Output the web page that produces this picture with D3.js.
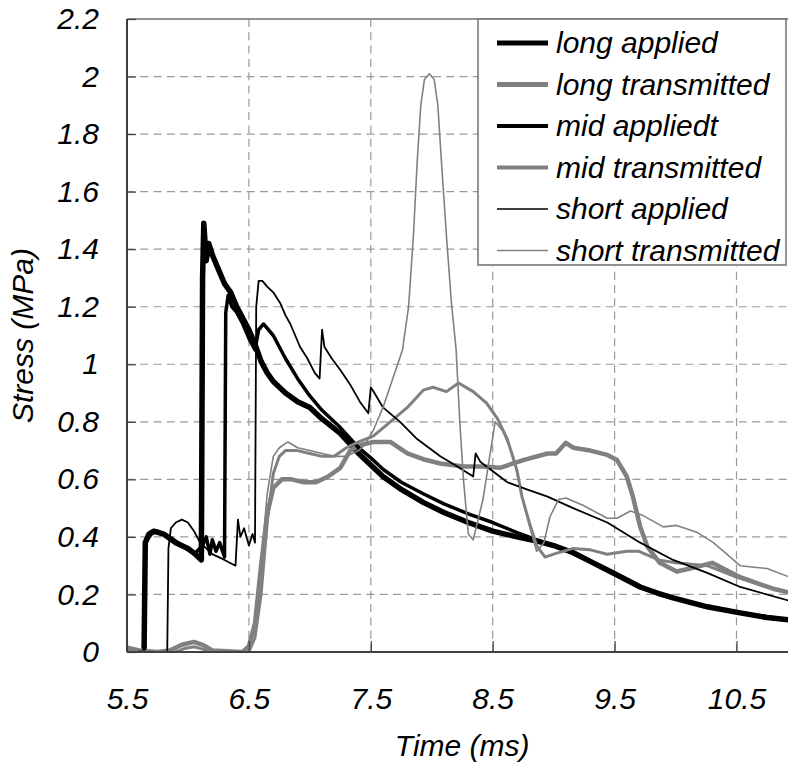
<!DOCTYPE html>
<html>
<head>
<meta charset="utf-8">
<script src="https://cdn.jsdelivr.net/npm/d3@7"></script>
<style>
  body { margin: 0; background: #fff; }
  text { font-family: "Liberation Sans", Arial, sans-serif; font-style: italic; }
</style>
</head>
<body>
<script>
// --- data (time in ms, stress in MPa) ---
const xTicks = [5.5, 6.5, 7.5, 8.5, 9.5, 10.5];
const yTicks = [0, 0.2, 0.4, 0.6, 0.8, 1, 1.2, 1.4, 1.6, 1.8, 2, 2.2];

const longApplied = [
  [5.5, 0], [5.64, 0], [5.65, 0.38], [5.68, 0.41], [5.72, 0.42], [5.8, 0.41], [5.9, 0.38],
  [6.0, 0.36], [6.06, 0.34], [6.11, 0.32], [6.12, 1.3], [6.13, 1.49], [6.15, 1.36], [6.17, 1.42],
  [6.2, 1.38], [6.25, 1.33], [6.3, 1.28], [6.35, 1.25], [6.4, 1.2], [6.45, 1.16], [6.5, 1.12],
  [6.55, 1.07], [6.6, 1.01], [6.65, 0.97], [6.7, 0.94], [6.8, 0.9], [6.9, 0.87], [7.0, 0.85],
  [7.1, 0.81], [7.25, 0.76], [7.4, 0.69], [7.5, 0.65], [7.6, 0.61], [7.75, 0.565], [7.93, 0.52],
  [8.1, 0.485], [8.3, 0.45], [8.5, 0.42], [8.7, 0.4], [8.89, 0.383], [9.0, 0.37], [9.16, 0.345],
  [9.3, 0.315], [9.44, 0.285], [9.6, 0.25], [9.71, 0.226], [9.85, 0.205], [9.98, 0.188],
  [10.26, 0.157], [10.53, 0.136], [10.75, 0.12], [11.0, 0.108]
];
const longTransmitted = [
  [5.5, 0.015], [5.6, 0.005], [5.75, 0], [5.85, 0.005], [5.95, 0.025], [6.05, 0.035], [6.12, 0.025],
  [6.2, 0.005], [6.45, 0], [6.5, 0.02], [6.55, 0.1], [6.6, 0.3], [6.65, 0.48], [6.7, 0.57],
  [6.77, 0.6], [6.85, 0.6], [6.95, 0.59], [7.05, 0.59], [7.15, 0.61], [7.25, 0.64], [7.33, 0.7],
  [7.42, 0.72], [7.52, 0.73], [7.66, 0.73], [7.8, 0.69], [7.93, 0.67], [8.07, 0.655], [8.26, 0.645],
  [8.42, 0.645], [8.56, 0.64], [8.75, 0.667], [8.95, 0.69], [9.02, 0.69], [9.1, 0.727], [9.16, 0.71],
  [9.3, 0.7], [9.44, 0.685], [9.52, 0.667], [9.6, 0.61], [9.65, 0.54], [9.71, 0.435], [9.77, 0.365],
  [9.87, 0.31], [10.01, 0.28], [10.12, 0.29], [10.3, 0.31], [10.53, 0.26], [10.8, 0.22], [11.0, 0.2]
];
const midApplied = [
  [5.5, 0], [5.64, 0], [5.65, 0.38], [5.7, 0.41], [5.75, 0.42], [5.85, 0.4], [5.95, 0.37],
  [6.05, 0.34], [6.12, 0.37], [6.15, 0.4], [6.18, 0.34], [6.2, 0.39], [6.23, 0.35], [6.26, 0.38],
  [6.3, 0.33], [6.31, 1.18], [6.33, 1.24], [6.36, 1.2], [6.4, 1.18], [6.45, 1.14], [6.5, 1.09],
  [6.55, 1.05], [6.58, 1.12], [6.62, 1.14], [6.7, 1.1], [6.8, 1.02], [6.9, 0.95], [7.0, 0.89],
  [7.1, 0.84], [7.25, 0.78], [7.4, 0.71], [7.5, 0.675], [7.6, 0.635], [7.75, 0.59], [7.93, 0.55],
  [8.1, 0.515], [8.3, 0.48], [8.5, 0.45], [8.7, 0.415], [8.89, 0.385], [9.0, 0.37], [9.16, 0.348],
  [9.44, 0.285], [9.71, 0.226], [9.98, 0.188], [10.26, 0.157], [10.53, 0.136], [11.0, 0.108]
];
const midTransmitted = [
  [5.5, 0.01], [5.6, 0], [5.9, 0], [5.97, 0.012], [6.05, 0.018], [6.12, 0.01], [6.2, 0], [6.5, 0],
  [6.55, 0.05], [6.6, 0.2], [6.65, 0.45], [6.7, 0.62], [6.75, 0.68], [6.8, 0.7], [6.9, 0.7],
  [7.0, 0.69], [7.1, 0.68], [7.2, 0.68], [7.3, 0.71], [7.4, 0.73], [7.52, 0.75], [7.66, 0.8],
  [7.8, 0.85], [7.93, 0.91], [8.01, 0.92], [8.12, 0.905], [8.22, 0.935], [8.34, 0.905], [8.45, 0.865],
  [8.54, 0.81], [8.62, 0.74], [8.7, 0.63], [8.74, 0.54], [8.8, 0.45], [8.86, 0.37], [8.93, 0.33],
  [9.0, 0.34], [9.16, 0.36], [9.3, 0.355], [9.44, 0.34], [9.6, 0.35], [9.7, 0.35], [9.86, 0.32],
  [10.0, 0.31], [10.26, 0.3], [10.5, 0.26], [10.8, 0.22], [11.0, 0.2]
];
const shortApplied = [
  [5.5, 0], [5.83, 0], [5.84, 0.36], [5.86, 0.43], [5.9, 0.45], [5.95, 0.46], [6.0, 0.45],
  [6.05, 0.42], [6.1, 0.38], [6.15, 0.36], [6.2, 0.34], [6.3, 0.32], [6.39, 0.3], [6.41, 0.46],
  [6.43, 0.4], [6.46, 0.43], [6.5, 0.37], [6.53, 0.41], [6.55, 0.38], [6.56, 1.2], [6.58, 1.29],
  [6.61, 1.29], [6.65, 1.27], [6.7, 1.25], [6.76, 1.21], [6.8, 1.17], [6.84, 1.14], [6.88, 1.1],
  [6.92, 1.06], [6.98, 1.02], [7.04, 0.97], [7.08, 0.95], [7.1, 1.12], [7.12, 1.06], [7.18, 1.02],
  [7.25, 0.98], [7.33, 0.93], [7.41, 0.87], [7.48, 0.83], [7.5, 0.92], [7.53, 0.9], [7.6, 0.85],
  [7.74, 0.8], [7.88, 0.74], [8.07, 0.68], [8.21, 0.645], [8.34, 0.61], [8.36, 0.69], [8.4, 0.66],
  [8.45, 0.645], [8.62, 0.59], [8.78, 0.565], [8.95, 0.54], [9.16, 0.5], [9.44, 0.45], [9.71, 0.38],
  [9.98, 0.32], [10.26, 0.275], [10.53, 0.226], [11.0, 0.17]
];
const shortTransmitted = [
  [5.5, 0], [6.5, 0], [6.55, 0.05], [6.6, 0.3], [6.65, 0.55], [6.7, 0.68], [6.75, 0.71], [6.82, 0.73],
  [6.9, 0.71], [7.0, 0.7], [7.1, 0.69], [7.2, 0.68], [7.3, 0.68], [7.4, 0.7], [7.45, 0.72],
  [7.52, 0.77], [7.6, 0.85], [7.68, 0.95], [7.76, 1.05], [7.81, 1.2], [7.85, 1.45], [7.88, 1.7],
  [7.91, 1.9], [7.94, 1.99], [7.98, 2.01], [8.02, 1.99], [8.05, 1.9], [8.08, 1.7], [8.12, 1.45],
  [8.16, 1.22], [8.2, 1.05], [8.23, 0.8], [8.26, 0.6], [8.3, 0.41], [8.34, 0.39], [8.42, 0.53],
  [8.52, 0.8], [8.58, 0.77], [8.67, 0.68], [8.74, 0.54], [8.8, 0.44], [8.86, 0.35], [8.92, 0.38],
  [8.97, 0.47], [9.04, 0.53], [9.1, 0.535], [9.24, 0.51], [9.44, 0.465], [9.52, 0.465], [9.63, 0.49],
  [9.73, 0.475], [9.9, 0.435], [10.01, 0.44], [10.18, 0.415], [10.31, 0.38], [10.53, 0.3],
  [10.75, 0.29], [11.0, 0.25]
];

const series = [
  { name: "long applied", data: longApplied, color: "#000", width: 5.5, key: 5 },
  { name: "long transmitted", data: longTransmitted, color: "#808080", width: 4.5, key: 5 },
  { name: "mid appliedt", data: midApplied, color: "#000", width: 3.5, key: 4 },
  { name: "mid transmitted", data: midTransmitted, color: "#808080", width: 3, key: 4 },
  { name: "short applied", data: shortApplied, color: "#000", width: 1.8, key: 1.7 },
  { name: "short transmitted", data: shortTransmitted, color: "#808080", width: 1.6, key: 1.7 }
];

const W = 788, H = 770;
const plot = { left: 127, top: 19, bottom: 652 };

const x = d3.scaleLinear().domain([5.5, 11]).range([plot.left, plot.left + 5.5 * 121.9]);
const y = d3.scaleLinear().domain([0, 2.2]).range([plot.bottom, plot.top]);

const svg = d3.select("body").append("svg")
  .attr("width", W).attr("height", H)
  .style("background", "#fff");

svg.append("defs").append("clipPath").attr("id", "clip")
  .append("rect")
  .attr("x", plot.left).attr("y", plot.top - 5)
  .attr("width", x.range()[1] - plot.left).attr("height", plot.bottom - plot.top + 5);

// gridlines
const grid = svg.append("g");
grid.selectAll(".gy").data(yTicks.filter(d => d > 0 && d < 2.2)).join("line")
  .attr("x1", plot.left).attr("x2", x.range()[1])
  .attr("y1", d => y(d)).attr("y2", d => y(d))
  .attr("stroke", "#9a9a9a").attr("stroke-width", 1.2)
  .attr("stroke-dasharray", "8,5.3");
grid.selectAll(".gx").data(xTicks.slice(1)).join("line")
  .attr("x1", d => x(d)).attr("x2", d => x(d))
  .attr("y1", plot.top).attr("y2", plot.bottom)
  .attr("stroke", "#9a9a9a").attr("stroke-width", 1.2)
  .attr("stroke-dasharray", "8,5.3");

// top border of plot area
svg.append("line")
  .attr("x1", plot.left).attr("x2", x.range()[1])
  .attr("y1", plot.top).attr("y2", plot.top)
  .attr("stroke", "#707070").attr("stroke-width", 1.5);

// series lines
const line = d3.line().x(d => x(d[0])).y(d => y(d[1]));
svg.append("g").attr("clip-path", "url(#clip)")
  .selectAll("path").data(series).join("path")
  .attr("d", d => line(d.data))
  .attr("fill", "none")
  .attr("stroke", d => d.color)
  .attr("stroke-width", d => d.width)
  .attr("stroke-linejoin", "round");

// axes
const yAxis = svg.append("g")
  .attr("transform", `translate(${plot.left},0)`)
  .call(d3.axisLeft(y).tickValues(yTicks).tickFormat(d => d).tickSize(-9).tickPadding(28));
const xAxis = svg.append("g")
  .attr("transform", `translate(0,${plot.bottom})`)
  .call(d3.axisBottom(x).tickValues(xTicks).tickFormat(d => d).tickSize(-11).tickPadding(36));
[yAxis, xAxis].forEach(a => {
  a.select(".domain").attr("stroke", "#404040").attr("stroke-width", 2);
  a.selectAll(".tick line").attr("stroke", "#404040").attr("stroke-width", 1.2);
  a.selectAll(".tick text")
    .attr("fill", "#000")
    .style("font-size", "30px")
    .style("font-family", "'Liberation Sans', Arial, sans-serif")
    .style("font-style", "italic");
});
yAxis.select(".domain").attr("d", `M0,${plot.top}V${plot.bottom}`);
xAxis.select(".domain").attr("d", `M${plot.left},0H${x.range()[1]}`);

// axis titles
svg.append("text")
  .attr("x", (plot.left + x.range()[1]) / 2).attr("y", 756)
  .attr("text-anchor", "middle").style("font-size", "30px")
  .text("Time (ms)");
svg.append("text")
  .attr("transform", `translate(33,${(plot.top + plot.bottom) / 2}) rotate(-90)`)
  .attr("text-anchor", "middle").style("font-size", "30px")
  .text("Stress (MPa)");

// legend
const lg = svg.append("g");
lg.append("rect")
  .attr("x", 478).attr("y", 19).attr("width", 308).attr("height", 246)
  .attr("fill", "#fff").attr("stroke", "#707070").attr("stroke-width", 1.5);
const rows = lg.selectAll(".row").data(series).join("g")
  .attr("transform", (d, i) => `translate(0,${43 + i * 41.5})`);
rows.append("line")
  .attr("x1", 497).attr("x2", 548).attr("y1", 0).attr("y2", 0)
  .attr("stroke", d => d.color).attr("stroke-width", d => d.key);
rows.append("text")
  .attr("x", 556).attr("y", 10)
  .style("font-size", "30px")
  .text(d => d.name);
</script>
</body>
</html>
